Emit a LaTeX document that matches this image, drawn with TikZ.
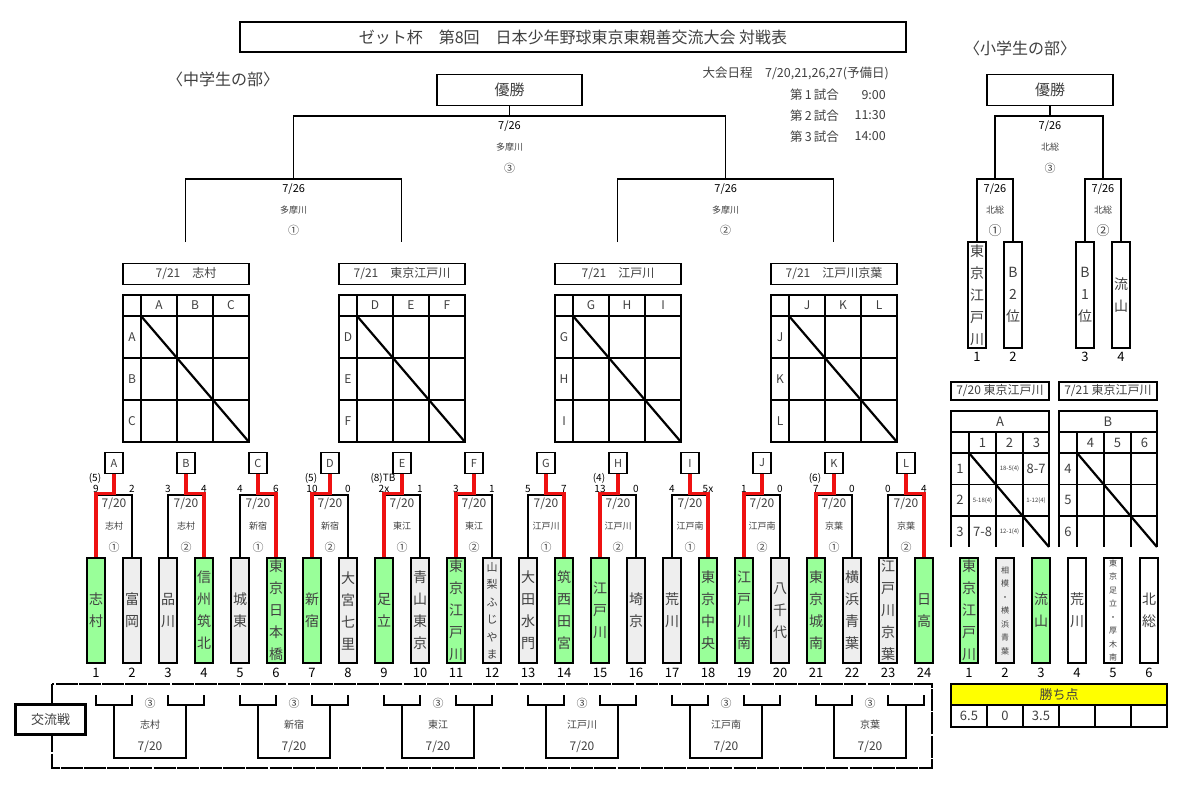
\documentclass[tikz,border=0pt]{standalone}
\usepackage{fontspec}
\setmainfont{Noto Sans CJK JP}
\usetikzlibrary{calc}

\definecolor{wingreen}{HTML}{99FF99}
\definecolor{losegray}{HTML}{EEEEEE}
\definecolor{pointyellow}{HTML}{FFFF00}
\definecolor{inkgray}{HTML}{404040}
\definecolor{winred}{HTML}{EE1111}

\begin{document}
\begin{tikzpicture}[
    x=1pt, y=-1pt, % one unit = one pixel, y runs downwards
    line/.style={line width=1.1pt, black}, % bracket and grid lines
    winline/.style={line width=3.3pt, winred}, % path of the winner
    diag/.style={line width=2.2pt, black}, % diagonal of the league grids
    frame/.style={line width=1.1pt, dash pattern=on 22pt off 1.2pt}, % frame round the exchange games
    box/.style={draw, line width=1.1pt, inner sep=0pt, text=inkgray},
    teambox/.style={draw, line width=1.1pt, minimum width=18pt, minimum height=105pt, inner sep=0pt},
    tname/.style={font=\fontsize{14}{22}\selectfont, text=inkgray, align=center, inner sep=0pt},
    tsmall/.style={font=\fontsize{11}{17.5}\selectfont, text=inkgray, align=center, inner sep=0pt},
    ttiny/.style={font=\fontsize{8}{13.5}\selectfont, text=inkgray, align=center, inner sep=0pt},
    numlbl/.style={font=\fontsize{13}{13}\selectfont, inner sep=0pt},
    score/.style={font=\fontsize{10}{10}\selectfont, inner sep=0pt},
    gdate/.style={font=\fontsize{12}{12}\selectfont, text=inkgray, inner sep=0pt},
    gvenue/.style={font=\fontsize{9}{9}\selectfont, text=inkgray, inner sep=0pt},
    ground/.style={font=\fontsize{11}{11}\selectfont, text=inkgray, inner sep=0pt},
    udate/.style={font=\fontsize{11}{11}\selectfont, inner sep=0pt},
    glabel/.style={font=\fontsize{12}{12}\selectfont, text=inkgray, inner sep=0pt},
    tiny cell/.style={font=\fontsize{6}{6}\selectfont, text=inkgray, inner sep=0pt},
    heading/.style={font=\fontsize{16}{16}\selectfont, text=inkgray, inner sep=0pt},
    sched/.style={font=\fontsize{12.5}{12.5}\selectfont, text=inkgray, inner sep=0pt}
  ]

  \fill[white] (0,0) rectangle (1196,801);
  \useasboundingbox (0,0) rectangle (1196,801);

  % --- Title and schedule ---
  \node[box, minimum width=666pt, minimum height=30pt, font=\fontsize{16}{16}\selectfont] (title) at (573,37) {ゼット杯　第8回　日本少年野球東京東親善交流大会 対戦表};
  \node[heading] (jhs) at (223,79) {〈中学生の部〉};
  \node[heading] (ele) at (1020,48) {〈小学生の部〉};
  \node[sched, anchor=east] (sch) at (889,73) {大会日程　7/20,21,26,27(予備日)};
  \foreach \k/\tm/\yy in {1/9:00/95, 2/11:30/115.5, 3/14:00/136.5}{
    \node[sched, anchor=west] (gm\k) at (790,\yy) {第\,\k\,試合};
    \node[sched, anchor=east] (gt\k) at (886,\yy) {\tm};
  }

  % --- Final rounds (middle school) ---
  \node[box, minimum width=145pt, minimum height=31pt, font=\fontsize{15}{15}\selectfont] (win1) at (509.5,90) {優勝};
  \coordinate (fin1) at (509.5,116);
  \coordinate (semiL) at (293.7,179);
  \coordinate (semiR) at (725.7,179);
  \coordinate (q1) at (185.6,242);
  \coordinate (q2) at (401.8,242);
  \coordinate (q3) at (617.9,242);
  \coordinate (q4) at (833.5,242);
  \draw[line] (win1.south) -- (fin1);
  \draw[line] (semiL) |- (fin1) -| (semiR);
  \draw[line] (q1) |- (semiL) -| (q2);
  \draw[line] (q3) |- (semiR) -| (q4);
  \node[udate] (fd) at (509.5,126.5) {7/26};
  \node[gvenue] (fv) at (509.5,147) {多摩川};
  \node[ground] (fr) at (509.5,168) {③};
  \foreach \s/\xx/\rnd in {L/293.7/①, R/725.7/②}{
    \node[udate] (sd\s) at (\xx,189) {7/26};
    \node[gvenue] (sv\s) at (\xx,210) {多摩川};
    \node[ground] (sr\s) at (\xx,230.5) {\rnd};
  }

  % --- League grids ---
  \foreach \g/\ven/\ca/\cb/\cc in {0/志村/A/B/C, 1/東京江戸川/D/E/F, 2/江戸川/G/H/I, 3/江戸川京葉/J/K/L}{
    \pgfmathsetmacro{\xo}{123+216*\g}
    \node[box, minimum width=126pt, minimum height=21pt, font=\fontsize{12}{12}\selectfont] (lg\g) at ({\xo+63},274) {7/21　\ven};
    \draw[line] (\xo,295) rectangle ({\xo+126},442);
    \foreach \dx in {18,54,90} \draw[line] ({\xo+\dx},295) -- ({\xo+\dx},442);
    \foreach \yy in {316,358,400} \draw[line] (\xo,\yy) -- ({\xo+126},\yy);
    \draw[diag] ({\xo+18},316) -- ({\xo+126},442);
    \foreach \lbl [count=\k from 0] in {\ca,\cb,\cc}{
      \node[glabel] (gc\g\k) at ({\xo+36+36*\k},305.5) {\lbl};
      \node[glabel] (gr\g\k) at ({\xo+9},{337+42*\k}) {\lbl};
    }
  }

  % --- Teams (middle school) ---
  \foreach \i/\nm/\fc/\st in {
      1/{志\\村}/wingreen/tname, 2/{富\\岡}/losegray/tname,
      3/{品\\川}/losegray/tname, 4/{信\\州\\筑\\北}/wingreen/tname,
      5/{城\\東}/losegray/tname, 6/{東\\京\\日\\本\\橋}/wingreen/tname,
      7/{新\\宿}/wingreen/tname, 8/{大\\宮\\七\\里}/losegray/tname,
      9/{足\\立}/wingreen/tname, 10/{青\\山\\東\\京}/losegray/tname,
      11/{東\\京\\江\\戸\\川}/wingreen/tname, 12/{山\\梨\\ふ\\じ\\や\\ま}/losegray/tsmall,
      13/{大\\田\\水\\門}/losegray/tname, 14/{筑\\西\\田\\宮}/wingreen/tname,
      15/{江\\戸\\川}/wingreen/tname, 16/{埼\\京}/losegray/tname,
      17/{荒\\川}/losegray/tname, 18/{東\\京\\中\\央}/wingreen/tname,
      19/{江\\戸\\川\\南}/wingreen/tname, 20/{八\\千\\代}/losegray/tname,
      21/{東\\京\\城\\南}/wingreen/tname, 22/{横\\浜\\青\\葉}/losegray/tname,
      23/{江\\戸\\川\\京\\葉}/losegray/tname, 24/{日\\高}/wingreen/tname}{
    \node[teambox, fill=\fc] (t\i) at ({96+36*(\i-1)},610.5) {};
    \node[\st] (n\i) at (t\i.center) {\nm};
    \node[numlbl] (k\i) at ({96+36*(\i-1)},673) {\i};
  }

  % --- First round brackets ---
  \foreach \p/\w/\scl/\scr/\ex/\lett/\ven/\rnd in {
      1/1/9/2/(5)/A/志村/①, 2/4/3/4/{}/B/志村/②,
      3/6/4/6/{}/C/新宿/①, 4/7/10/0/(5)/D/新宿/②,
      5/9/2x/1/(8)TB/E/東江/①, 6/11/3/1/{}/F/東江/②,
      7/14/5/7/{}/G/江戸川/①, 8/15/13/0/(4)/H/江戸川/②,
      9/18/4/5x/{}/I/江戸南/①, 10/19/1/0/{}/J/江戸南/②,
      11/21/7/0/(6)/K/京葉/①, 12/24/0/4/{}/L/京葉/②}{
    \pgfmathtruncatemacro{\lft}{2*\p-1}
    \pgfmathtruncatemacro{\rgt}{2*\p}
    \pgfmathsetmacro{\xm}{114+72*(\p-1)}
    \node[box, minimum width=18pt, minimum height=21pt, font=\fontsize{11}{11}\selectfont] (lt\p) at (\xm,463) {\lett};
    \coordinate (br\p) at (\xm,495);
    \draw[line] (t\lft.north) |- (br\p) -| (t\rgt.north);
    \draw[winline] (lt\p.south) -- ([yshift=1.5pt]br\p) -| (t\w.north);
    \node[score] (sa\p) at ({\xm-18},488.5) {\scl};
    \node[score] (sb\p) at ({\xm+18},488.5) {\scr};
    \node[score] (sx\p) at ({\xm-19},478) {\ex};
    \node[gdate] (d\p) at (\xm,503.5) {7/20};
    \node[gvenue] (v\p) at (\xm,526) {\ven};
    \node[ground] (r\p) at (\xm,547) {\rnd};
  }

  % --- Exchange games ---
  \draw[frame] (52,684) rectangle (932,768);
  \node[box, line width=3.5pt, fill=white, minimum width=70pt, minimum height=30pt, font=\fontsize{13}{13}\selectfont] (kory) at (50.5,719.5) {交流戦};
  \foreach \g/\ven in {1/志村, 2/新宿, 3/東江, 4/江戸川, 5/江戸南, 6/京葉}{
    \pgfmathsetmacro{\xa}{96+144*(\g-1)}
    \draw[line] (\xa,695) |- ({\xa+36},705) -- ({\xa+36},695);
    \draw[line] ({\xa+72},695) |- ({\xa+108},705) -- ({\xa+108},695);
    \draw[line] ({\xa+18},705) |- ({\xa+90},758) -- ({\xa+90},705);
    \node[ground] (xr\g) at ({\xa+54},703) {③};
    \node[gvenue, font=\fontsize{10}{10}\selectfont] (xv\g) at ({\xa+54},725) {\ven};
    \node[gdate] (xd\g) at ({\xa+54},747) {7/20};
  }

  % --- Elementary school: final rounds ---
  \node[box, minimum width=126pt, minimum height=31pt, font=\fontsize{15}{15}\selectfont] (win2) at (1050,90) {優勝};
  \foreach \i/\nm/\xx in {1/{東\\京\\江\\戸\\川}/977, 2/{B\\2\\位}/1013, 3/{B\\1\\位}/1085, 4/{流\\山}/1121}{
    \node[teambox, minimum height=106pt, fill=white] (s\i) at (\xx,295) {};
    \node[tname] (sn\i) at (s\i.center) {\nm};
    \node[numlbl] (sk\i) at (\xx,357) {\i};
  }
  \coordinate (efin) at (1050,116);
  \coordinate (esemi1) at (995,179);
  \coordinate (esemi2) at (1103,179);
  \draw[line] (win2.south) -- (efin);
  \draw[line] (esemi1) |- (efin) -| (esemi2);
  \draw[line] (s1.north) |- (esemi1) -| (s2.north);
  \draw[line] (s3.north) |- (esemi2) -| (s4.north);
  \node[udate] (efd) at (1050,126.5) {7/26};
  \node[gvenue] (efv) at (1050,147) {北総};
  \node[ground] (efr) at (1050,168) {③};
  \foreach \s/\xx/\rnd in {1/995/①, 2/1103/②}{
    \node[udate] (esd\s) at (\xx,189) {7/26};
    \node[gvenue] (esv\s) at (\xx,210) {北総};
    \node[ground, font=\fontsize{13}{13}\selectfont] (esr\s) at (\xx,230.5) {\rnd};
  }

  % --- Elementary school: leagues ---
  \node[box, minimum width=98pt, minimum height=18pt, font=\fontsize{12}{12}\selectfont] (rh1) at (1000,391) {7/20 東京江戸川};
  \node[box, minimum width=98pt, minimum height=18pt, font=\fontsize{12}{12}\selectfont] (rh2) at (1108,391) {7/21 東京江戸川};
  \foreach \g/\hd/\ca/\cb/\cc in {0/A/1/2/3, 1/B/4/5/6}{
    \pgfmathsetmacro{\xo}{951+108*\g}
    \draw[line] (\xo,547) |- ({\xo+98},411) -- ({\xo+98},547);
    \foreach \yy in {432,453,484.5,516} \draw[line] (\xo,\yy) -- ({\xo+98},\yy);
    \foreach \dx in {18,45,72} \draw[line] ({\xo+\dx},432) -- ({\xo+\dx},547);
    \draw[diag] ({\xo+18},453) -- ({\xo+98},547);
    \node[glabel, font=\fontsize{13}{13}\selectfont] (rg\g) at ({\xo+49},421.5) {\hd};
    \foreach \lbl [count=\k from 0] in {\ca,\cb,\cc}{
      \node[glabel, font=\fontsize{13}{13}\selectfont] (rc\g\k) at ({\xo+31.5+27*\k},442.5) {\lbl};
      \node[glabel, font=\fontsize{13}{13}\selectfont] (rr\g\k) at ({\xo+9},{468.75+31.5*\k}) {\lbl};
    }
  }
  % results of league A
  \node[tiny cell] (a12) at (1009.5,468.75) {18-5(4)};
  \node[glabel, font=\fontsize{13}{13}\selectfont] (a13) at (1036,468.75) {8-7};
  \node[tiny cell] (a21) at (982.5,500.25) {5-18(4)};
  \node[tiny cell] (a23) at (1036,500.25) {1-12(4)};
  \node[glabel, font=\fontsize{13}{13}\selectfont] (a31) at (982.5,531.75) {7-8};
  \node[tiny cell] (a32) at (1009.5,531.75) {12-1(4)};

  % --- Elementary school: teams and points ---
  \foreach \i/\nm/\fc/\st in {
      1/{東\\京\\江\\戸\\川}/wingreen/tname, 2/{相\\模\\・\\横\\浜\\青\\葉}/losegray/ttiny,
      3/{流\\山}/wingreen/tname, 4/{荒\\川}/white/tname,
      5/{東\\京\\足\\立\\・\\厚\\木\\南}/white/ttiny, 6/{北\\総}/white/tname}{
    \node[teambox, fill=\fc] (e\i) at ({969+36*(\i-1)},610.5) {};
    \node[\st] (en\i) at (e\i.center) {\nm};
    \node[numlbl] (ek\i) at ({969+36*(\i-1)},673) {\i};
  }
  \node[box, fill=pointyellow, minimum width=216pt, minimum height=21pt, font=\fontsize{13}{13}\selectfont] (pts) at (1059,694.5) {勝ち点};
  \foreach \v [count=\k from 0] in {6.5,0,3.5,{},{},{}}{
    \node[box, minimum width=36pt, minimum height=22pt, font=\fontsize{13}{13}\selectfont] (pv\k) at ({969+36*\k},716) {\v};
  }

\end{tikzpicture}
\end{document}
